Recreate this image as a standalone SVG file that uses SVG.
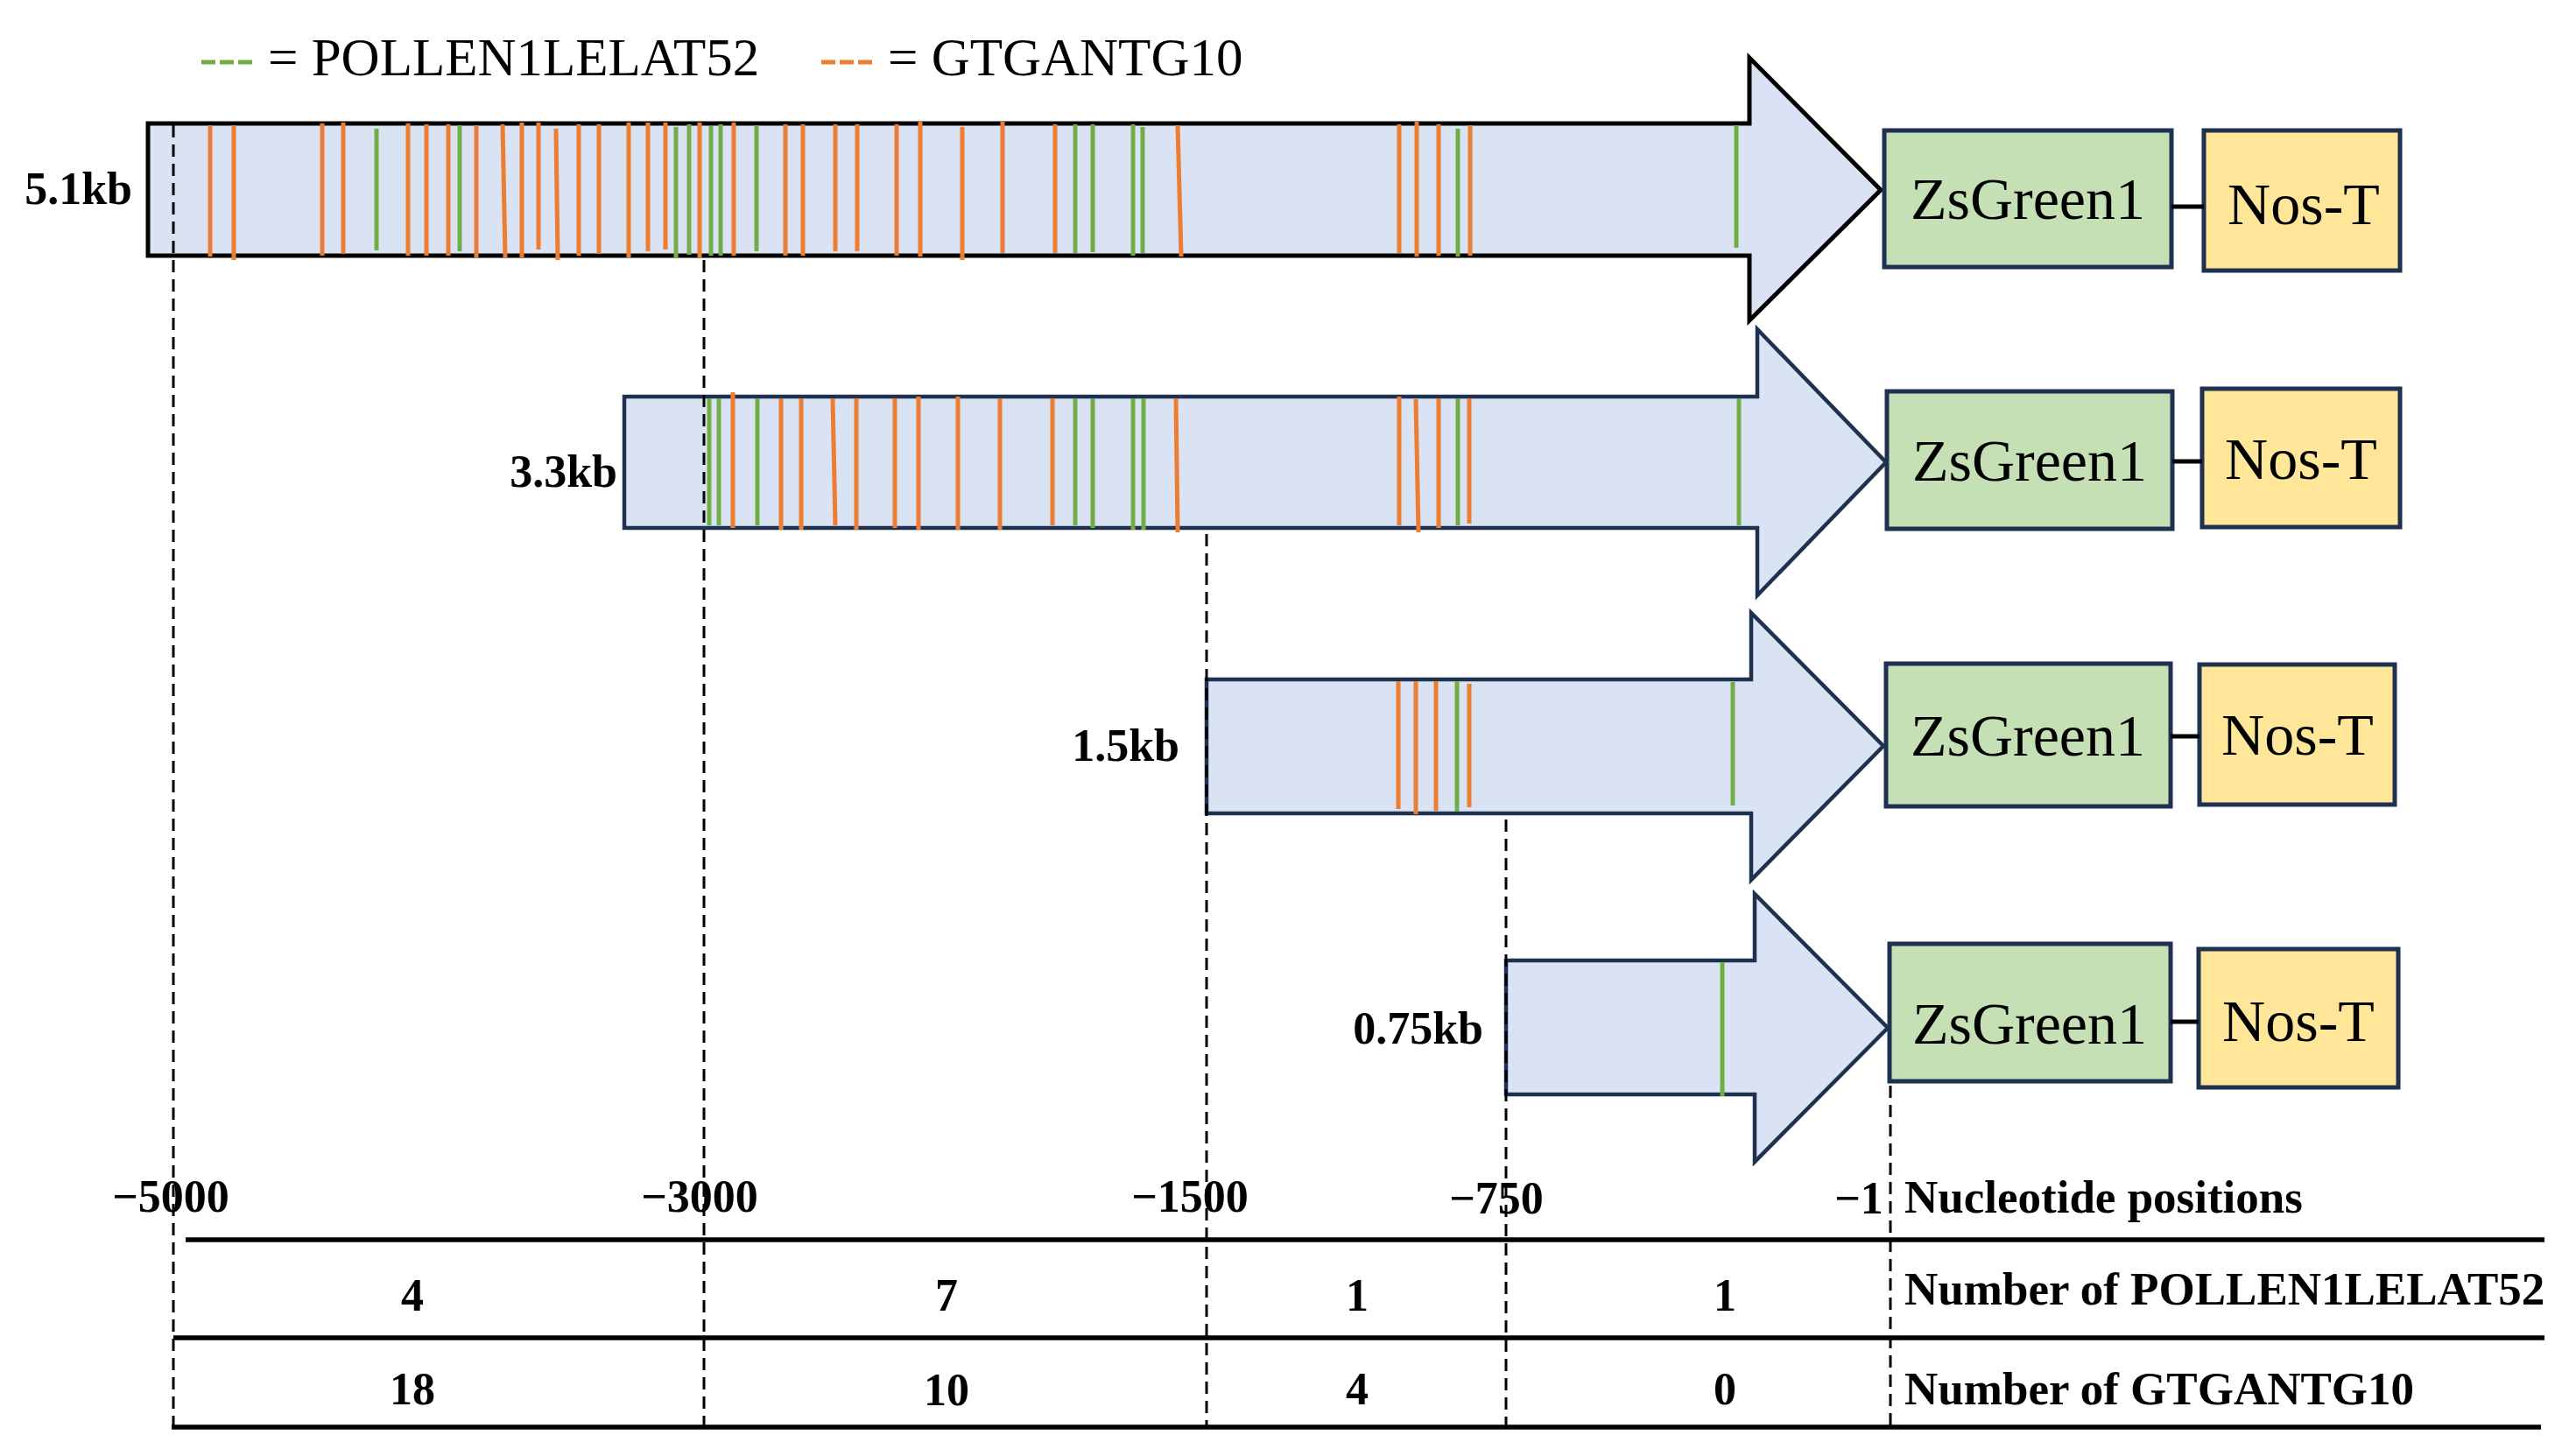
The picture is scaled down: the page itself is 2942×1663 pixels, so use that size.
<svg xmlns="http://www.w3.org/2000/svg" width="2942" height="1663" viewBox="0 0 2942 1663">
<style>
.bg{fill:#ffffff}
.bar1{fill:#dae3f3;stroke:#000000;stroke-width:5;stroke-linejoin:miter}
.bar{fill:#dae3f3;stroke:#1f3150;stroke-width:4.5;stroke-linejoin:miter}
.o{stroke:#ed7d31;stroke-width:5}
.g{stroke:#70ad47;stroke-width:5}
.zs{fill:#c5e0b4;stroke:#1f3150;stroke-width:5}
.nt{fill:#ffe699;stroke:#1f3150;stroke-width:5}
.bt{font-family:"Liberation Serif","Times New Roman",serif;font-size:68px;text-anchor:middle;fill:#000000}
.kb{font-family:"Liberation Serif","Times New Roman",serif;font-weight:bold;font-size:52px;text-anchor:end;fill:#000000}
.ax{font-family:"Liberation Serif","Times New Roman",serif;font-weight:bold;font-size:52px;text-anchor:middle;fill:#000000}
.rl{font-family:"Liberation Serif","Times New Roman",serif;font-weight:bold;font-size:53px;fill:#000000}
.lg{font-family:"Liberation Serif","Times New Roman",serif;font-size:61px;fill:#000000}
.guide{stroke:#000000;stroke-width:3;stroke-dasharray:14 8;fill:none}
.rule{stroke:#000000;stroke-width:5.5}
.link{stroke:#000000;stroke-width:5}
</style>
<rect class="bg" x="0" y="0" width="2942" height="1663"/>

<g id="legend">
  <line x1="230" y1="71" x2="288" y2="71" stroke="#70ad47" stroke-width="5" stroke-dasharray="16 5"/>
  <text class="lg" x="306" y="86">= POLLEN1LELAT52</text>
  <line x1="938" y1="71" x2="996" y2="71" stroke="#ed7d31" stroke-width="5" stroke-dasharray="16 5"/>
  <text class="lg" x="1014" y="86">= GTGANTG10</text>
</g>

<g id="promoter-5.1kb">
  <polygon class="bar1" points="169,141 1998,141 1998,66 2148,217 1998,366 1998,292 169,292"/>
  <g class="o">
    <line x1="240" y1="143" x2="240" y2="293"/>
    <line x1="267" y1="143" x2="267" y2="297"/>
    <line x1="368" y1="141" x2="368" y2="292"/>
    <line x1="392" y1="140" x2="392" y2="290"/>
    <line x1="466" y1="141" x2="466" y2="292"/>
    <line x1="487" y1="142" x2="487" y2="292"/>
    <line x1="512" y1="142" x2="512" y2="292"/>
    <line x1="544" y1="143" x2="544" y2="294"/>
    <line x1="574" y1="142" x2="577" y2="294"/>
    <line x1="596" y1="140" x2="596" y2="294"/>
    <line x1="615" y1="140" x2="615" y2="285"/>
    <line x1="635" y1="147" x2="637" y2="297"/>
    <line x1="661" y1="142" x2="661" y2="292"/>
    <line x1="684" y1="142" x2="684" y2="290"/>
    <line x1="718" y1="140" x2="718" y2="294"/>
    <line x1="740" y1="140" x2="740" y2="287"/>
    <line x1="760" y1="140" x2="760" y2="285"/>
    <line x1="799" y1="140" x2="799" y2="294"/>
    <line x1="838" y1="140" x2="838" y2="292"/>
    <line x1="897" y1="142" x2="897" y2="292"/>
    <line x1="917" y1="142" x2="917" y2="292"/>
    <line x1="954" y1="142" x2="954" y2="287"/>
    <line x1="979" y1="142" x2="979" y2="287"/>
    <line x1="1024" y1="142" x2="1024" y2="292"/>
    <line x1="1051" y1="139" x2="1051" y2="293"/>
    <line x1="1099" y1="145" x2="1099" y2="297"/>
    <line x1="1145" y1="139" x2="1145" y2="289"/>
    <line x1="1205" y1="142" x2="1205" y2="289"/>
    <line x1="1345" y1="143" x2="1349" y2="293"/>
    <line x1="1598" y1="142" x2="1598" y2="289"/>
    <line x1="1618" y1="139" x2="1618" y2="293"/>
    <line x1="1643" y1="142" x2="1643" y2="292"/>
    <line x1="1679" y1="143" x2="1679" y2="292"/>
  </g>
  <g class="g">
    <line x1="430" y1="147" x2="430" y2="286"/>
    <line x1="525" y1="143" x2="525" y2="287"/>
    <line x1="772" y1="145" x2="772" y2="295"/>
    <line x1="787" y1="142" x2="787" y2="291"/>
    <line x1="812" y1="144" x2="812" y2="292"/>
    <line x1="823" y1="142" x2="823" y2="292"/>
    <line x1="864" y1="143" x2="864" y2="287"/>
    <line x1="1228" y1="142" x2="1228" y2="289"/>
    <line x1="1248" y1="142" x2="1248" y2="288"/>
    <line x1="1294" y1="142" x2="1294" y2="292"/>
    <line x1="1305" y1="145" x2="1305" y2="289"/>
    <line x1="1665" y1="147" x2="1665" y2="293"/>
    <line x1="1983" y1="143" x2="1983" y2="283"/>
  </g>
  <text class="kb" x="151" y="233">5.1kb</text>
</g>

<g id="promoter-3.3kb">
  <polygon class="bar" points="713,453 2007,453 2007,376 2154,528 2007,680 2007,603 713,603"/>
  <g class="o">
    <line x1="837" y1="448" x2="837" y2="603"/>
    <line x1="892" y1="455" x2="892" y2="605"/>
    <line x1="915" y1="455" x2="915" y2="605"/>
    <line x1="951" y1="455" x2="954" y2="600"/>
    <line x1="978" y1="455" x2="978" y2="605"/>
    <line x1="1022" y1="455" x2="1022" y2="603"/>
    <line x1="1049" y1="453" x2="1049" y2="605"/>
    <line x1="1094" y1="453" x2="1094" y2="605"/>
    <line x1="1142" y1="455" x2="1142" y2="605"/>
    <line x1="1202" y1="455" x2="1202" y2="600"/>
    <line x1="1343" y1="455" x2="1345" y2="608"/>
    <line x1="1598" y1="453" x2="1598" y2="600"/>
    <line x1="1617" y1="456" x2="1620" y2="608"/>
    <line x1="1643" y1="455" x2="1643" y2="603"/>
    <line x1="1678" y1="455" x2="1678" y2="598"/>
  </g>
  <g class="g">
    <line x1="810" y1="455" x2="810" y2="600"/>
    <line x1="821" y1="455" x2="821" y2="600"/>
    <line x1="865" y1="455" x2="865" y2="600"/>
    <line x1="1228" y1="455" x2="1228" y2="600"/>
    <line x1="1248" y1="455" x2="1248" y2="603"/>
    <line x1="1294" y1="455" x2="1294" y2="605"/>
    <line x1="1306" y1="455" x2="1306" y2="605"/>
    <line x1="1665" y1="455" x2="1665" y2="600"/>
    <line x1="1986" y1="455" x2="1986" y2="600"/>
  </g>
  <text class="kb" x="705" y="556">3.3kb</text>
</g>

<g id="promoter-1.5kb">
  <polygon class="bar" points="1378,776 2000,776 2000,700 2151,852 2000,1005 2000,929 1378,929"/>
  <g class="o">
    <line x1="1597" y1="778" x2="1597" y2="924"/>
    <line x1="1617" y1="778" x2="1617" y2="930"/>
    <line x1="1640" y1="778" x2="1640" y2="926"/>
    <line x1="1678" y1="781" x2="1678" y2="922"/>
  </g>
  <g class="g">
    <line x1="1664" y1="778" x2="1664" y2="927"/>
    <line x1="1979" y1="779" x2="1979" y2="920"/>
  </g>
  <text class="kb" x="1347" y="869">1.5kb</text>
</g>

<g id="promoter-0.75kb">
  <polygon class="bar" points="1720,1097 2004,1097 2004,1021 2156,1174 2004,1327 2004,1250 1720,1250"/>
  <g class="g">
    <line x1="1967" y1="1099" x2="1967" y2="1252"/>
  </g>
  <text class="kb" x="1694" y="1192">0.75kb</text>
</g>

<g id="zsgreen1-row1">
  <rect class="zs" x="2152" y="149" width="328" height="156"/>
  <text class="bt" x="2316" y="250">ZsGreen1</text>
</g>
<g id="nost-row1">
  <rect class="nt" x="2517" y="149" width="224" height="160"/>
  <text class="bt" x="2631" y="256">Nos-T</text>
</g>
<g id="zsgreen1-row2">
  <rect class="zs" x="2155" y="447" width="326" height="157"/>
  <text class="bt" x="2318" y="549">ZsGreen1</text>
</g>
<g id="nost-row2">
  <rect class="nt" x="2515" y="444" width="226" height="158"/>
  <text class="bt" x="2628" y="547">Nos-T</text>
</g>
<g id="zsgreen1-row3">
  <rect class="zs" x="2154" y="758" width="325" height="163"/>
  <text class="bt" x="2316" y="863">ZsGreen1</text>
</g>
<g id="nost-row3">
  <rect class="nt" x="2512" y="759" width="223" height="160"/>
  <text class="bt" x="2624" y="862">Nos-T</text>
</g>
<g id="zsgreen1-row4">
  <rect class="zs" x="2158" y="1078" width="321" height="157"/>
  <text class="bt" x="2318" y="1192">ZsGreen1</text>
</g>
<g id="nost-row4">
  <rect class="nt" x="2511" y="1084" width="228" height="158"/>
  <text class="bt" x="2625" y="1189">Nos-T</text>
</g>

<g id="connectors">
  <line class="link" x1="2480" y1="236" x2="2517" y2="236"/>
  <line class="link" x1="2481" y1="527" x2="2515" y2="527"/>
  <line class="link" x1="2479" y1="841" x2="2512" y2="841"/>
  <line class="link" x1="2479" y1="1167" x2="2511" y2="1167"/>
  <line class="guide" x1="198" y1="143" x2="198" y2="1630"/>
  <line class="guide" x1="804" y1="297" x2="804" y2="1636"/>
  <line class="guide" x1="1378" y1="610" x2="1378" y2="1630"/>
  <line class="guide" x1="1720" y1="936" x2="1720" y2="1630"/>
  <line class="guide" x1="2159" y1="1240" x2="2159" y2="1628"/>
</g>

<g id="table">
  <line class="rule" x1="212" y1="1416" x2="2906" y2="1416"/>
  <line class="rule" x1="198" y1="1528" x2="2906" y2="1528"/>
  <line class="rule" x1="196" y1="1630" x2="2902" y2="1630"/>
  <text class="ax" x="195" y="1384">−5000</text>
  <text class="ax" x="799" y="1384">−3000</text>
  <text class="ax" x="1359" y="1384">−1500</text>
  <text class="ax" x="1709" y="1386">−750</text>
  <text class="ax" x="2123" y="1386">−1</text>
  <text class="rl" x="2175" y="1385">Nucleotide positions</text>
  <text class="ax" x="471" y="1497">4</text>
  <text class="ax" x="1081" y="1497">7</text>
  <text class="ax" x="1550" y="1497">1</text>
  <text class="ax" x="1970" y="1497">1</text>
  <text class="rl" x="2175" y="1490">Number of POLLEN1LELAT52</text>
  <text class="ax" x="471" y="1604">18</text>
  <text class="ax" x="1081" y="1605">10</text>
  <text class="ax" x="1550" y="1604">4</text>
  <text class="ax" x="1970" y="1604">0</text>
  <text class="rl" x="2175" y="1604">Number of GTGANTG10</text>
</g>
</svg>
